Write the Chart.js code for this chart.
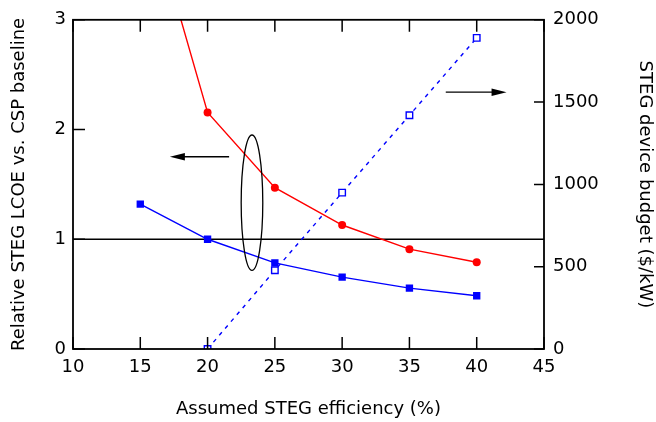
<!DOCTYPE html>
<html>
<head>
<meta charset="utf-8">
<script src="https://cdn.jsdelivr.net/npm/chart.js@4"></script>
<style>
  html, body { margin: 0; padding: 0; background: #fff; }
</style>
</head>
<body>
<canvas id="chart" width="656" height="422"></canvas>
<script>
// values
var efficiency = [15, 20, 25, 30, 35, 40];
var lcoeRed = [4.29, 2.155, 1.47, 1.13, 0.91, 0.79];
var lcoeBlue = [1.32, 1.0, 0.785, 0.655, 0.555, 0.485];
var budgetEff = [20, 25, 30, 35, 40];
var budget = [0, 478, 950, 1420, 1890];
var baselineX = [10, 45];
var baselineY = [1, 1];

var fontName = "'DejaVu Sans', Verdana, sans-serif";

function pairs(xs, ys) {
  var out = [];
  for (var i = 0; i < xs.length; i++) out.push({ x: xs[i], y: ys[i] });
  return out;
}

// plain numbers, no thousands separator
function plain(v) {
  return String(v);
}

// box frame, inward ticks, ellipse + arrows
var frame = {
  id: "frame",
  afterDatasetsDraw: function(chart) {
    var ctx = chart.ctx;
    var a = chart.chartArea;
    var sx = chart.scales.x, sy = chart.scales.y, sy2 = chart.scales.y2;
    ctx.save();
    ctx.strokeStyle = "#000";
    ctx.lineWidth = 1.8;
    ctx.strokeRect(a.left, a.top, a.right - a.left, a.bottom - a.top);

    ctx.lineWidth = 1.5;
    ctx.beginPath();
    sx.ticks.forEach(function(t) {
      var px = sx.getPixelForValue(t.value);
      ctx.moveTo(px, a.bottom);
      ctx.lineTo(px, a.bottom - 12);
      ctx.moveTo(px, a.top);
      ctx.lineTo(px, a.top + 12);
    });
    sy.ticks.forEach(function(t) {
      var py = sy.getPixelForValue(t.value);
      ctx.moveTo(a.left, py);
      ctx.lineTo(a.left + 12, py);
    });
    sy2.ticks.forEach(function(t) {
      var py = sy2.getPixelForValue(t.value);
      ctx.moveTo(a.right, py);
      ctx.lineTo(a.right - 10, py);
    });
    ctx.stroke();

    // ellipse grouping the two LCOE curves
    var cx = sx.getPixelForValue(23.3);
    var cy = sy.getPixelForValue(1.333);
    var ry = (sy.getPixelForValue(0.716) - sy.getPixelForValue(1.95)) / 2;
    ctx.lineWidth = 1.3;
    ctx.beginPath();
    ctx.ellipse(cx, cy, 10.8, ry, 0, 0, Math.PI * 2);
    ctx.stroke();

    // arrows
    function arrow(x1, x2, py) {
      var dir = x2 > x1 ? 1 : -1;
      ctx.lineWidth = 1.3;
      ctx.beginPath();
      ctx.moveTo(x1, py);
      ctx.lineTo(x2 - dir * 10, py);
      ctx.stroke();
      ctx.beginPath();
      ctx.moveTo(x2, py);
      ctx.lineTo(x2 - dir * 15, py - 3.8);
      ctx.lineTo(x2 - dir * 15, py + 3.8);
      ctx.closePath();
      ctx.fill();
    }
    ctx.fillStyle = "#000";
    arrow(sx.getPixelForValue(21.6), sx.getPixelForValue(17.2), sy.getPixelForValue(1.752));
    arrow(sx.getPixelForValue(37.7), sx.getPixelForValue(42.22), sy2.getPixelForValue(1560));
    ctx.restore();
  }
};

var ctx = document.getElementById("chart");
var chart = new Chart(ctx, {
  type: "line",
  data: {
    datasets: [
      {
        label: "LCOE red",
        data: pairs(efficiency, lcoeRed),
        borderColor: "#ff0000",
        backgroundColor: "#ff0000",
        borderWidth: 1.4,
        pointStyle: "circle",
        pointRadius: 4,
        pointBorderWidth: 0,
        yAxisID: "y"
      },
      {
        label: "LCOE blue",
        data: pairs(efficiency, lcoeBlue),
        borderColor: "#0000ff",
        backgroundColor: "#0000ff",
        borderWidth: 1.4,
        pointStyle: "rect",
        pointRadius: 5.2,
        pointBorderWidth: 0,
        yAxisID: "y"
      },
      {
        label: "Budget",
        data: pairs(budgetEff, budget),
        borderColor: "#0000ff",
        backgroundColor: "#ffffff",
        borderWidth: 1.4,
        borderDash: [4, 5],
        pointStyle: "rect",
        pointRadius: 4.6,
        pointBorderWidth: 1.4,
        pointBorderColor: "#0000ff",
        yAxisID: "y2"
      },
      {
        label: "Baseline",
        data: pairs(baselineX, baselineY),
        borderColor: "#000000",
        borderWidth: 1.4,
        pointRadius: 0,
        yAxisID: "y"
      }
    ]
  },
  options: {
    responsive: false,
    animation: false,
    devicePixelRatio: 1,
    layout: { padding: { top: 18, left: 0, right: 0, bottom: 0 } },
    plugins: {
      legend: { display: false },
      tooltip: { enabled: false }
    },
    scales: {
      x: {
        type: "linear",
        min: 10,
        max: 45,
        ticks: { stepSize: 5, color: "#000", padding: 8, callback: plain, font: { family: fontName, size: 18 } },
        grid: { display: false, drawTicks: false },
        border: { display: false },
        title: {
          display: true,
          text: "Assumed STEG efficiency (%)",
          color: "#000",
          font: { family: fontName, size: 18 },
          padding: { top: 0, bottom: 2 }
        },
        afterFit: function(s) { s.height = 73; }
      },
      y: {
        position: "left",
        min: 0,
        max: 3,
        ticks: { stepSize: 1, color: "#000", padding: 7, callback: plain, font: { family: fontName, size: 18 } },
        grid: { display: false, drawTicks: false },
        border: { display: false },
        title: {
          display: true,
          text: "Relative STEG LCOE vs. CSP baseline",
          color: "#000",
          font: { family: fontName, size: 18 },
          padding: { top: 9, bottom: 0 }
        },
        afterFit: function(s) { s.width = 73; }
      },
      y2: {
        position: "right",
        min: 0,
        max: 2000,
        ticks: { stepSize: 500, color: "#000", padding: 9, callback: plain, font: { family: fontName, size: 18 } },
        grid: { display: false, drawTicks: false },
        border: { display: false },
        title: {
          display: true,
          text: "STEG device budget ($/kW)",
          color: "#000",
          font: { family: fontName, size: 18 },
          padding: { top: 1, bottom: 0 }
        },
        afterFit: function(s) { s.width = 112; }
      }
    }
  },
  plugins: [frame]
});
</script>
</body>
</html>
